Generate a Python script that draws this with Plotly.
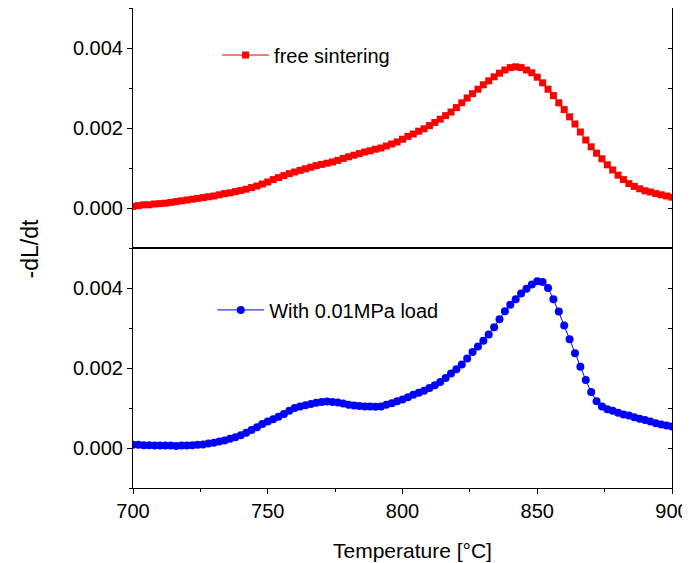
import plotly.graph_objects as go

temperature = list(range(700, 902, 2))

free_sintering = [
    0.00004, 0.00006, 0.00008, 0.00008, 0.00010, 0.00011, 0.00012, 0.00014, 0.00016, 0.00018,
    0.00020, 0.00022, 0.00024, 0.00026, 0.00028, 0.00030, 0.00033, 0.00036, 0.00038, 0.00041,
    0.00044, 0.00047, 0.00051, 0.00055, 0.00060, 0.00065, 0.00071, 0.00076, 0.00081, 0.00086,
    0.00090, 0.00094, 0.00098, 0.00102, 0.00106, 0.00109, 0.00112, 0.00115, 0.00119, 0.00124,
    0.00128, 0.00132, 0.00136, 0.00140, 0.00143, 0.00147, 0.00150, 0.00155, 0.00160, 0.00165,
    0.00172, 0.00179, 0.00185, 0.00192, 0.00198, 0.00206, 0.00214, 0.00222, 0.00231, 0.00240,
    0.00251, 0.00263, 0.00275, 0.00286, 0.00297, 0.00308, 0.00318, 0.00328, 0.00337, 0.00345,
    0.00351, 0.00353, 0.00351, 0.00345, 0.00338, 0.00327, 0.00313, 0.00297, 0.00281, 0.00263,
    0.00246, 0.00228, 0.00210, 0.00190, 0.00170, 0.00153, 0.00137, 0.00123, 0.00108, 0.00095,
    0.00082, 0.00071, 0.00061, 0.00054, 0.00048, 0.00043, 0.00040, 0.00036, 0.00033, 0.00030,
    0.00027,
]

with_load = [
    0.00008, 0.00008, 0.00007, 0.00007, 0.00006, 0.00006, 0.00006, 0.00006, 0.00005, 0.00006,
    0.00006, 0.00007, 0.00008, 0.00009, 0.00011, 0.00013, 0.00016, 0.00019, 0.00023, 0.00027,
    0.00032, 0.00038, 0.00045, 0.00052, 0.00060, 0.00066, 0.00072, 0.00078, 0.00085, 0.00093,
    0.00100, 0.00104, 0.00107, 0.00110, 0.00113, 0.00115, 0.00116, 0.00115, 0.00114, 0.00111,
    0.00108, 0.00106, 0.00105, 0.00104, 0.00104, 0.00103, 0.00104, 0.00108, 0.00112, 0.00117,
    0.00121, 0.00127, 0.00133, 0.00138, 0.00143, 0.00150, 0.00157, 0.00165, 0.00175, 0.00186,
    0.00197, 0.00209, 0.00224, 0.00240, 0.00254, 0.00268, 0.00284, 0.00302, 0.00322, 0.00342,
    0.00358, 0.00372, 0.00386, 0.00398, 0.00409, 0.00417, 0.00415, 0.00400, 0.00372, 0.00341,
    0.00306, 0.00272, 0.00237, 0.00203, 0.00170, 0.00140, 0.00117, 0.00104, 0.00097, 0.00093,
    0.00088, 0.00084, 0.00081, 0.00077, 0.00073, 0.00070, 0.00066, 0.00062, 0.00059, 0.00056,
    0.00054,
]

FONT = "Arial, Liberation Sans, sans-serif"
yrange = [-0.001, 0.005]

fig = go.Figure()
fig.add_trace(go.Scatter(
    x=temperature, y=free_sintering, name="free sintering", mode="lines+markers",
    line=dict(color="#ff0000", width=1), marker=dict(symbol="square", size=7, color="#ff0000"),
    xaxis="x2", yaxis="y", legend="legend", showlegend=True))
fig.add_trace(go.Scatter(
    x=temperature, y=with_load, name="With 0.01MPa load", mode="lines+markers",
    line=dict(color="#0000ff", width=1), marker=dict(symbol="circle", size=8, color="#0000ff"),
    xaxis="x", yaxis="y2", legend="legend2", showlegend=True))
# invisible copies that register the right-side (inward tick) axes
fig.add_trace(go.Scatter(x=temperature, y=free_sintering, mode="lines", opacity=0,
                         hoverinfo="skip", xaxis="x2", yaxis="y3", showlegend=False))
fig.add_trace(go.Scatter(x=temperature, y=with_load, mode="lines", opacity=0,
                         hoverinfo="skip", xaxis="x", yaxis="y4", showlegend=False))

yax_common = dict(range=yrange, tickformat=".3f", dtick=0.002, tick0=0, automargin=False,
                  ticks="outside", ticklen=5, tickcolor="black", showline=True,
                  linecolor="black", linewidth=1, mirror=True, showgrid=False, zeroline=False,
                  minor=dict(dtick=0.001, tick0=0, ticks="outside", ticklen=3, tickcolor="black"),
                  tickfont=dict(family=FONT, size=20, color="black"))
right_common = dict(range=yrange, side="right", ticks="inside", ticklen=4, dtick=0.001, tick0=0,
                    tickcolor="black", showticklabels=False, showgrid=False, zeroline=False,
                    showline=False, automargin=False)

fig.update_layout(
    width=690, height=555,
    margin=dict(l=125, r=26, t=0, b=75),
    paper_bgcolor="white", plot_bgcolor="white",
    showlegend=True,
    xaxis=dict(domain=[0, 1], anchor="y2", range=[700, 900], dtick=50, tick0=700,
               automargin=False,
               ticks="outside", ticklen=5, tickcolor="black", showline=True, linecolor="black",
               mirror=True, showgrid=False, zeroline=False,
               minor=dict(dtick=25, tick0=700, ticks="outside", ticklen=3, tickcolor="black"),
               tickfont=dict(family=FONT, size=20, color="black")),
    xaxis2=dict(domain=[0, 1], anchor="y", matches="x", range=[700, 900], showticklabels=False,
                automargin=False,
                ticks="", showline=True, linecolor="black", mirror=True, showgrid=False,
                zeroline=False),
    yaxis=dict(domain=[0.5, 1], anchor="x2", **yax_common),
    yaxis2=dict(domain=[0, 0.5], anchor="x", **yax_common),
    yaxis3=dict(overlaying="y", anchor="x2", **right_common),
    yaxis4=dict(overlaying="y2", anchor="x", **right_common),
    legend=dict(x=0.156, y=0.902, xanchor="left", yanchor="middle", bgcolor="rgba(0,0,0,0)",
                itemwidth=47, font=dict(family=FONT, size=20, color="black")),
    legend2=dict(x=0.147, y=0.371, xanchor="left", yanchor="middle", bgcolor="rgba(0,0,0,0)",
                 itemwidth=47, font=dict(family=FONT, size=20, color="black")),
    annotations=[
        dict(text="-dL/dt", textangle=-90, x=-0.191, xref="paper", y=0.497, yref="paper",
             xanchor="center", yanchor="middle",
             showarrow=False, font=dict(family=FONT, size=23, color="black")),
        dict(text="Temperature [°C]", x=0.519, xref="paper", y=-0.131, yref="paper",
             xanchor="center", yanchor="middle",
             showarrow=False, font=dict(family=FONT, size=21, color="black")),
    ],
)

fig.write_html("out.html")
